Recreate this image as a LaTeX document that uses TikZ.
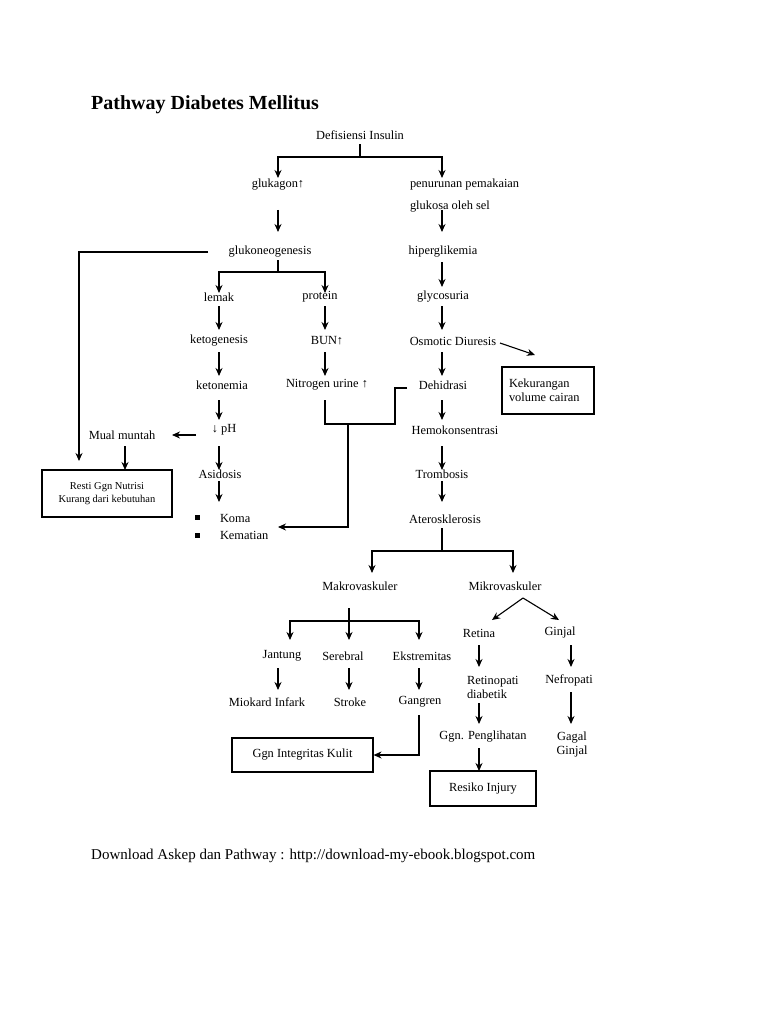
\documentclass[tikz,border=0pt]{standalone}
\usepackage{fontspec}
\setmainfont{Liberation Serif}
\usetikzlibrary{arrows.meta,calc}
\begin{document}
\begin{tikzpicture}[x=1pt,y=-1pt,
  t/.style={inner sep=0pt,outer sep=5pt,font=\fontsize{12.4}{14}\selectfont},
  ts/.style={inner sep=0pt,font=\fontsize{10.5}{13}\selectfont,align=center},
  box/.style={draw,line width=1.1pt,inner sep=0pt},
  ar/.style={line width=1.1pt,-{Stealth[length=8pt,width=7pt]}},
  ln/.style={line width=1.1pt}]
\useasboundingbox (0,0) rectangle (768,1024);
\node[anchor=west,inner sep=0,font=\bfseries\fontsize{20}{22}\selectfont] (title) at (91,105) {Pathway Diabetes Mellitus};
\node[t] (def) at (360,135) {Defisiensi Insulin};
\node[t] (glg) at (278,185) {glukagon↑};
\node[t,anchor=west] (pen) at (405,185) {penurunan pemakaian};
\node[t,anchor=west] (glu) at (405,207) {glukosa oleh sel};
\node[t] (gneo) at (270,252) {glukoneogenesis};
\node[t] (hip) at (443,252) {hiperglikemia};
\node[t] (lem) at (219,297) {lemak};
\node[t] (pro) at (320,297) {protein};
\node[t] (gly) at (443,297) {glycosuria};
\node[t] (ket) at (219,341) {ketogenesis};
\node[t] (bun) at (327,341) {BUN↑};
\node[t] (osm) at (453,341) {Osmotic Diuresis};
\node[t] (ktn) at (222,385) {ketonemia};
\node[t] (nit) at (327,385) {Nitrogen urine ↑};
\node[t] (deh) at (443,385) {Dehidrasi};
\node[t] (ph) at (224,430) {↓ pH};
\node[t] (mual) at (122,435) {Mual muntah};
\node[t] (hem) at (455,430) {Hemokonsentrasi};
\node[t] (asi) at (220,474) {Asidosis};
\node[t] (tro) at (442,474) {Trombosis};
\node[t] (ate) at (445,519) {Aterosklerosis};
\node[t,anchor=west] (koma) at (215,518) {Koma};
\node[t,anchor=west] (kem) at (215,535) {Kematian};
\fill (195,515) rectangle (200,520);
\fill (195,533) rectangle (200,538);
\node[box,minimum width=130pt,minimum height=47pt] (resti) at (107,493.5) {};
\node[ts] at (resti) {Resti Ggn Nutrisi\\Kurang dari kebutuhan};
\node[box,minimum width=92pt,minimum height=47pt] (kek) at (548,390.5) {};
\node[t,anchor=west,align=left,outer sep=0] at (509,390) {Kekurangan\\volume cairan};
\node[t] (mak) at (360,586) {Makrovaskuler};
\node[t] (mik) at (505,586) {Mikrovaskuler};
\node[t] (jan) at (282,656) {Jantung};
\node[t] (ser) at (343,656) {Serebral};
\node[t] (eks) at (422,656) {Ekstremitas};
\node[t] (mio) at (267,702) {Miokard Infark};
\node[t] (str) at (350,702) {Stroke};
\node[t] (gan) at (420,702) {Gangren};
\node[box,minimum width=141pt,minimum height=34pt] (kul) at (302.5,755) {};
\node[t,outer sep=0] at (kul) {Ggn Integritas Kulit};
\node[t] (ret) at (479,633) {Retina};
\node[t] (gin) at (560,633) {Ginjal};
\node[t,anchor=west,align=left] (rtp) at (462,687) {Retinopati\\diabetik};
\node[t] (nef) at (569,680) {Nefropati};
\node[t] (pen2) at (483,737) {Ggn. Penglihatan};
\node[t,align=center] (gag) at (572,745) {Gagal\\Ginjal};
\node[box,minimum width=106pt,minimum height=35pt] (inj) at (483,788.5) {};
\node[t,outer sep=0] at (inj) {Resiko Injury};
\node[anchor=west,inner sep=0,font=\fontsize{15}{17}\selectfont] (foot) at (91,856) {Download Askep dan Pathway : http://download-my-ebook.blogspot.com};

\coordinate (j1) at (360,157);
\draw[ln] (def.south) -- (j1);
\draw[ar] (j1) -| (278,178);
\draw[ar] (j1) -| (442,178);
\draw[ar] (278,210) -- (278,232);
\draw[ar] (442,210) -- (442,232);
\coordinate (j2) at (278,272);
\draw[ln] (278,260) -- (j2);
\draw[ar] (j2) -| (219,293);
\draw[ar] (j2) -| (325,293);
\draw[ar] (208,252) -| (79,461);
\draw[ar] (442,262) -- (442,287);
\foreach \x/\a/\b in {219/306/330,325/306/330,442/306/330,219/352/376,325/352/376,442/352/376,
  219/400/420,442/400/420,219/446/470,442/446/470,219/481/502,442/481/502,125/446/470}
  \draw[ar] (\x,\a) -- (\x,\b);
\draw[ar] (500,343) -- (535,355);
\draw[ar] (196,435) -- (172,435);
\coordinate (j3) at (348,424);
\draw[ln] (325,400) |- (j3);
\draw[ln] (407,388) -- (395,388) |- (j3);
\draw[ar] (j3) |- (278,527);
\coordinate (j4) at (442,551);
\draw[ln] (442,528) -- (j4);
\draw[ar] (j4) -| (372,573);
\draw[ar] (j4) -| (513,573);
\coordinate (j5) at (349,621);
\draw[ar] (349,608) -- (349,640);
\draw[ar] (j5) -| (290,640);
\draw[ar] (j5) -| (419,640);
\foreach \x in {278,349,419} \draw[ar] (\x,668) -- (\x,690);
\draw[ar] (419,715) |- (kul.east);
\draw[ar] (523,598) -- (492,620);
\draw[ar] (523,598) -- (559,620);
\draw[ar] (479,645) -- (479,667);
\draw[ar] (571,645) -- (571,667);
\draw[ar] (479,703) -- (479,724);
\draw[ar] (571,692) -- (571,724);
\draw[ar] (479,748) -- (479,771);
\end{tikzpicture}
\end{document}
